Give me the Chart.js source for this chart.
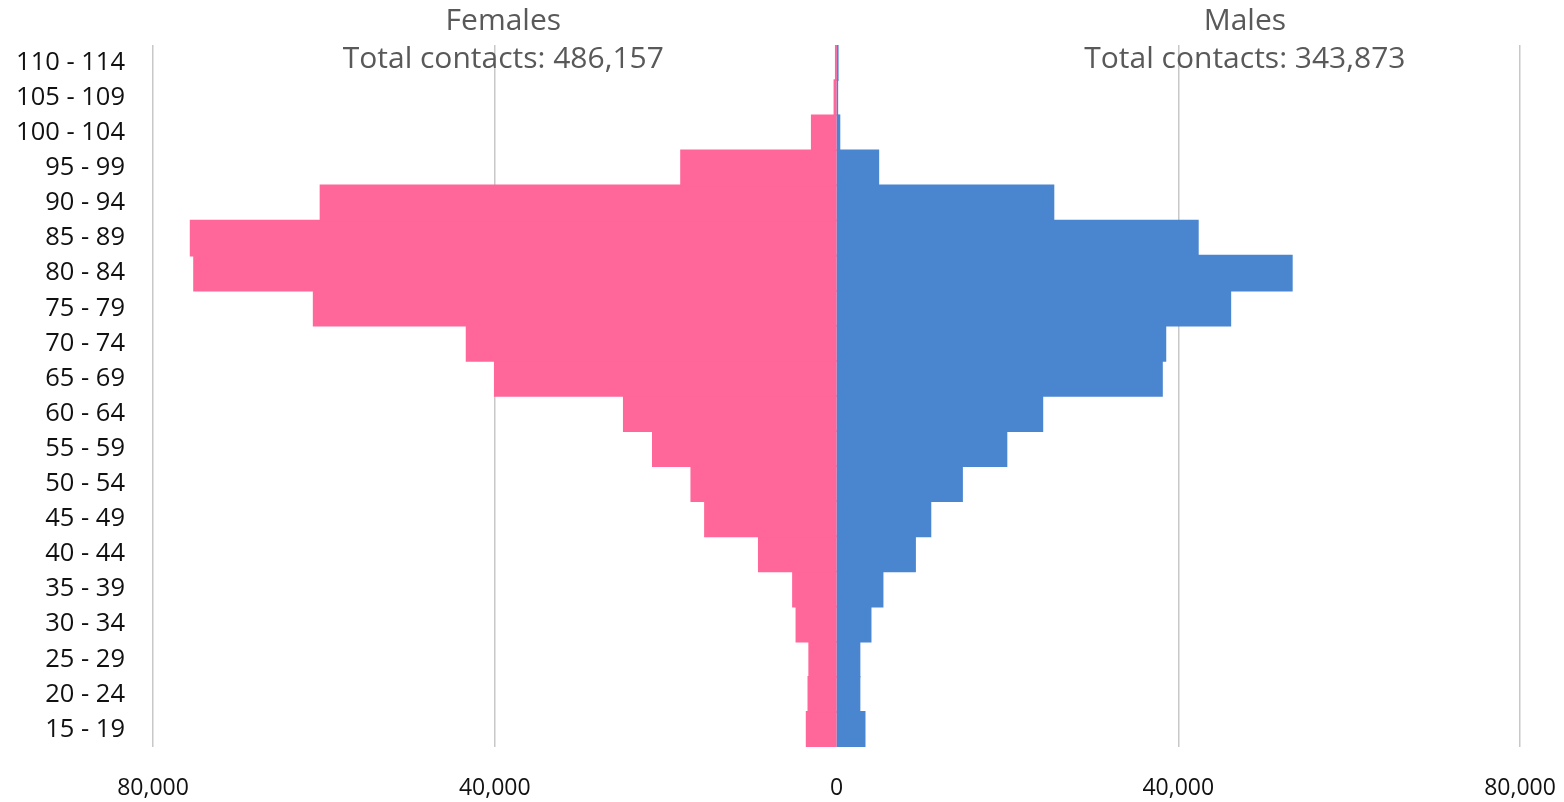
<!DOCTYPE html>
<html>
<head>
<meta charset="utf-8">
<script src="https://cdn.jsdelivr.net/npm/chart.js@4/dist/chart.umd.min.js"></script>
<style>
  html, body { margin: 0; padding: 0; background: #fff; }
  #wrap { width: 1564px; height: 802px; }
</style>
</head>
<body>
<div id="wrap"><canvas id="pyramid"></canvas></div>
<script>
// age groups, bottom to top
var ageGroups = ["15 - 19", "20 - 24", "25 - 29", "30 - 34", "35 - 39", "40 - 44", "45 - 49", "50 - 54", "55 - 59", "60 - 64",
                 "65 - 69", "70 - 74", "75 - 79", "80 - 84", "85 - 89", "90 - 94", "95 - 99", "100 - 104", "105 - 109", "110 - 114"];
var females = [3500, 3300, 3200, 4700, 5100, 9100, 15400, 17000, 21500, 24900,
               40000, 43300, 61200, 75200, 75600, 60400, 18200, 2900, 250, 50];
var males = [3300, 2700, 2700, 4000, 5400, 9200, 11000, 14700, 19900, 24100,
             38100, 38500, 46100, 53300, 42300, 25400, 4900, 350, 100, 150];
var xTicks = [-80000, -40000, 0, 40000, 80000];
var femaleTitle = ["Females", "Total contacts: 486,157"];
var maleTitle = ["Males", "Total contacts: 343,873"];

var FONT = "'Open Sans', 'Noto Sans', sans-serif";

// side titles above the plot
var sideTitles = {
    id: 'sideTitles',
    afterDraw: function (chart) {
        var c = chart.ctx;
        var x = chart.scales.x;
        c.save();
        c.fillStyle = '#595959';
        c.font = '30px ' + FONT;
        c.textAlign = 'center';
        c.textBaseline = 'middle';
        var fx = x.getPixelForValue(-39000);
        var mx = x.getPixelForValue(47800);
        c.fillText(femaleTitle[0], fx, 21);
        c.fillText(femaleTitle[1], fx, 59);
        c.fillText(maleTitle[0], mx, 21);
        c.fillText(maleTitle[1], mx, 59);
        c.restore();
    }
};

var ctx = document.getElementById("pyramid");
var chart = new Chart(ctx, {
    type: 'bar',
    data: {
        labels: ageGroups,
        datasets: [{
            label: 'Females',
            data: females.map(function (v) { return -v; }),
            backgroundColor: '#FF6699',
            borderWidth: 0,
            inflateAmount: 0.8,
            barPercentage: 1,
            categoryPercentage: 1
        },
        {
            label: 'Males',
            data: males,
            backgroundColor: '#4A86D0',
            borderWidth: 0,
            inflateAmount: 0.8,
            barPercentage: 1,
            categoryPercentage: 1
        }]
    },
    options: {
        indexAxis: 'y',
        responsive: true,
        maintainAspectRatio: false,
        animation: false,
        layout: { padding: { top: 45, right: 44, left: 0, bottom: 0 } },
        plugins: {
            legend: { display: false },
            tooltip: { enabled: false }
        },
        scales: {
            x: {
                stacked: true,
                min: -80000,
                max: 80000,
                afterBuildTicks: function (axis) {
                    axis.ticks = xTicks.map(function (v) { return { value: v }; });
                },
                ticks: {
                    color: '#111',
                    font: { family: FONT, size: 23 },
                    padding: 28,
                    maxRotation: 0,
                    callback: function (v) { return Math.abs(v).toLocaleString('en-US'); }
                },
                grid: {
                    color: function (c) { return c.tick && c.tick.value === 0 ? 'rgba(0,0,0,0)' : '#c8c8c8'; },
                    lineWidth: 1.5,
                    drawTicks: false
                },
                border: { display: false },
                afterFit: function (axis) {
                    axis.height = 55;
                    axis.paddingLeft = 0;
                    axis.paddingRight = 0;
                }
            },
            y: {
                stacked: true,
                reverse: true,
                ticks: {
                    color: '#111',
                    font: { family: FONT, size: 25.5 },
                    padding: 28,
                    autoSkip: false
                },
                grid: { display: false, drawTicks: false },
                border: { display: false },
                afterFit: function (axis) {
                    axis.width = 153;
                    axis.paddingTop = 0;
                    axis.paddingBottom = 0;
                }
            }
        }
    },
    plugins: [sideTitles]
});
</script>
</body>
</html>
